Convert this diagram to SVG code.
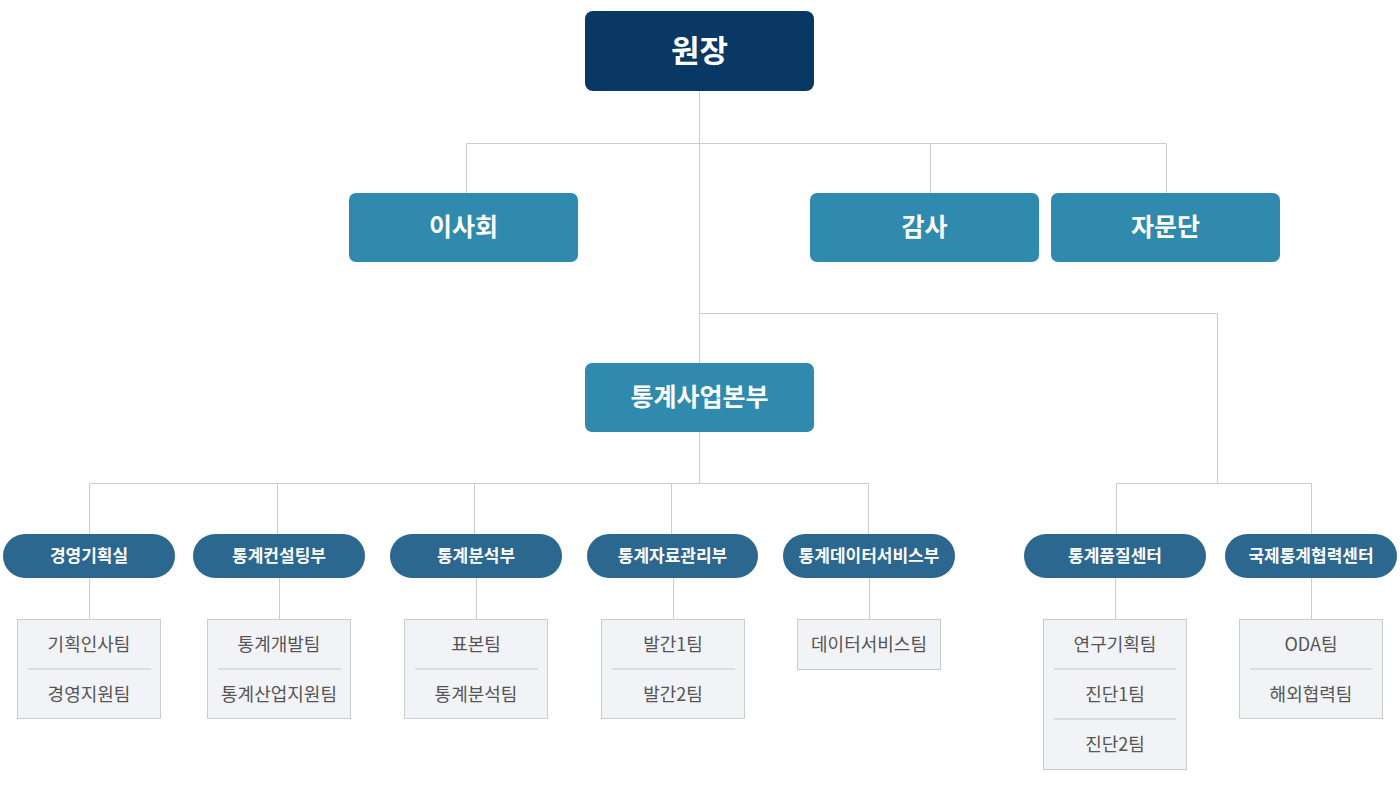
<svg xmlns="http://www.w3.org/2000/svg" width="1400" height="786" viewBox="0 0 1400 786">
<style>
text{font-family:"Noto Sans CJK KR","Noto Sans",sans-serif;text-anchor:middle}
.ln{stroke:#CCCCCC;stroke-width:1;fill:none}
.top{fill:#083863}
.mid{fill:#2F8AAE}
.pill{fill:#2C6790}
.t1{font-size:31px;font-weight:700;fill:#fff}
.t2{font-size:25px;font-weight:700;fill:#fff}
.t3{font-size:17px;font-weight:700;fill:#fff}
.box{fill:#F2F3F7;stroke:#CCCCCC;stroke-width:1}
.sep{stroke:#DDDDDD;stroke-width:2}
.t4{font-size:18px;fill:#555555}
</style>
<g id="connectors">
<path class="ln" d="M699.5 91V483.5M466.5 143.5H1166.5M466.5 143.5V193M930.5 143.5V193M1166.5 143.5V193M699.5 313.5H1217.5V483.5M89.5 483.5H868.5M89.5 483.5V534M277.5 483.5V534M474.5 483.5V534M671.5 483.5V534M868.5 483.5V534M1116.5 483.5H1311.5M1116.5 483.5V534M1311.5 483.5V534"/>
<path class="ln" d="M89.5 578V619M279.5 578V619M476.5 578V619M673.5 578V619M869.5 578V619M1115.5 578V619M1311.5 578V619"/>
</g>
<g id="n-director"><rect class="top" x="585" y="11" width="229" height="80" rx="8"/><text class="t1" x="699.5" y="62">원장</text></g>
<g id="n-board"><rect class="mid" x="349" y="193" width="229" height="69" rx="7"/><text class="t2" x="463.5" y="236">이사회</text></g>
<g id="n-audit"><rect class="mid" x="810" y="193" width="229" height="69" rx="7"/><text class="t2" x="924.5" y="236">감사</text></g>
<g id="n-advisory"><rect class="mid" x="1051" y="193" width="229" height="69" rx="7"/><text class="t2" x="1165.5" y="236">자문단</text></g>
<g id="n-hq"><rect class="mid" x="585" y="363" width="229" height="69" rx="7"/><text class="t2" x="699.5" y="406">통계사업본부</text></g>
<g id="n-d1"><rect class="pill" x="3" y="534" width="172" height="44" rx="22"/><text class="t3" x="89" y="562">경영기획실</text>
<rect class="box" x="17.5" y="619.5" width="143" height="99"/><line class="sep" x1="28" y1="669" x2="151" y2="669"/>
<text class="t4" x="89" y="651">기획인사팀</text><text class="t4" x="89" y="701">경영지원팀</text></g>
<g id="n-d2"><rect class="pill" x="193" y="534" width="172" height="44" rx="22"/><text class="t3" x="279" y="562">통계컨설팅부</text>
<rect class="box" x="207.5" y="619.5" width="143" height="99"/><line class="sep" x1="218" y1="669" x2="341" y2="669"/>
<text class="t4" x="279" y="651">통계개발팀</text><text class="t4" x="279" y="701">통계산업지원팀</text></g>
<g id="n-d3"><rect class="pill" x="390" y="534" width="172" height="44" rx="22"/><text class="t3" x="476" y="562">통계분석부</text>
<rect class="box" x="404.5" y="619.5" width="143" height="99"/><line class="sep" x1="415" y1="669" x2="538" y2="669"/>
<text class="t4" x="476" y="651">표본팀</text><text class="t4" x="476" y="701">통계분석팀</text></g>
<g id="n-d4"><rect class="pill" x="587" y="534" width="171" height="44" rx="22"/><text class="t3" x="672.5" y="562">통계자료관리부</text>
<rect class="box" x="601.5" y="619.5" width="143" height="99"/><line class="sep" x1="612" y1="669" x2="735" y2="669"/>
<text class="t4" x="673" y="651">발간1팀</text><text class="t4" x="673" y="701">발간2팀</text></g>
<g id="n-d5"><rect class="pill" x="783" y="534" width="172" height="44" rx="22"/><text class="t3" x="869" y="562">통계데이터서비스부</text>
<rect class="box" x="797.5" y="619.5" width="143" height="50"/>
<text class="t4" x="869" y="651">데이터서비스팀</text></g>
<g id="n-d6"><rect class="pill" x="1024" y="534" width="182" height="44" rx="22"/><text class="t3" x="1115" y="562">통계품질센터</text>
<rect class="box" x="1043.5" y="619.5" width="143" height="150"/><line class="sep" x1="1054" y1="669" x2="1176" y2="669"/><line class="sep" x1="1054" y1="719" x2="1176" y2="719"/>
<text class="t4" x="1115" y="651">연구기획팀</text><text class="t4" x="1115" y="701">진단1팀</text><text class="t4" x="1115" y="751">진단2팀</text></g>
<g id="n-d7"><rect class="pill" x="1225" y="534" width="172" height="44" rx="22"/><text class="t3" x="1311" y="562">국제통계협력센터</text>
<rect class="box" x="1239.5" y="619.5" width="143" height="99"/><line class="sep" x1="1250" y1="669" x2="1372" y2="669"/>
<text class="t4" x="1311" y="651">ODA팀</text><text class="t4" x="1311" y="701">해외협력팀</text></g>
</svg>
